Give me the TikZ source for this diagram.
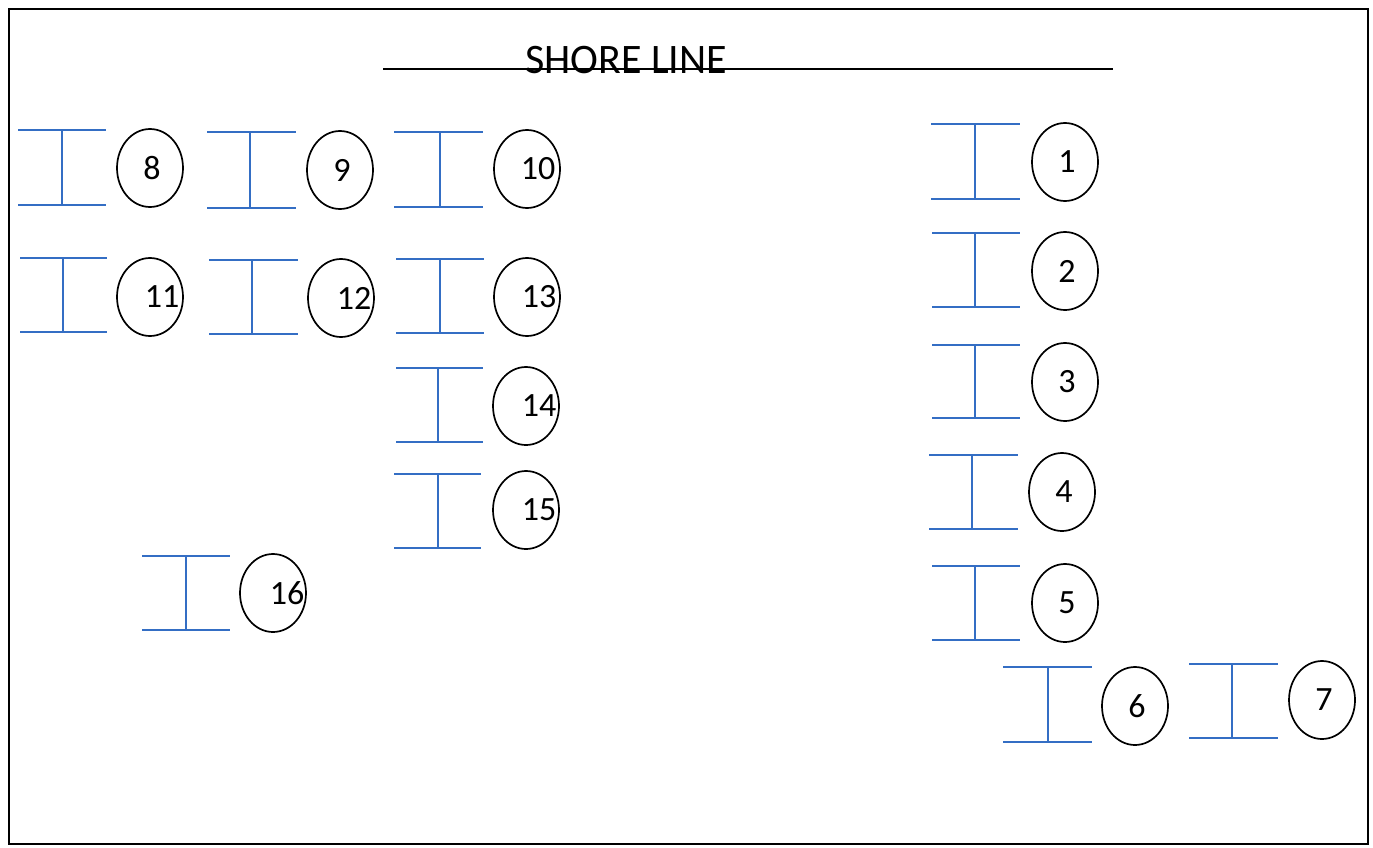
\documentclass[tikz,border=0pt]{standalone}
\usepackage{fontspec}
\setmainfont{Carlito}
\definecolor{pierblue}{RGB}{52,110,196}
\tikzset{
  pierline/.style={draw=pierblue, line width=1.8pt},
  berth/.style={draw=black, line width=1.7pt, ellipse, minimum width=66pt, minimum height=78pt, inner sep=0pt},
  numlabel/.style={font=\fontsize{34}{38}\selectfont, inner sep=0pt, anchor=center},
}
\usetikzlibrary{shapes.geometric}
% #1 id, #2 x-left, #3 x-right, #4 top y, #5 bottom y, #6 vertical x, #7 ellipse cx, #8 ellipse cy, #9 label x
\newcommand{\pierunit}[9]{%
  \coordinate (p#1tl) at (#2,#4);
  \coordinate (p#1tr) at (#3,#4);
  \coordinate (p#1bl) at (#2,#5);
  \coordinate (p#1br) at (#3,#5);
  \coordinate (p#1vt) at (#6,#4);
  \coordinate (p#1vb) at (#6,#5);
  \draw[pierline] (p#1tl) -- (p#1tr);
  \draw[pierline] (p#1bl) -- (p#1br);
  \draw[pierline] (p#1vt) -- (p#1vb);
  \node[berth] (e#1) at (#7,#8) {};
  \node[numlabel] (n#1) at (#9,#8) {#1};
}
\begin{document}
\begin{tikzpicture}[x=1pt,y=-1pt]
\useasboundingbox (0,0) rectangle (1373,848);
\node[draw=black, line width=2pt, minimum width=1359pt, minimum height=835pt, inner sep=0pt, anchor=north west] (frame) at (8,8) {};
\node[font=\fontsize{42}{46}\selectfont, inner sep=0pt, anchor=base] (title) at (626,74) {SHORE LINE};
\coordinate (sl1) at (383,69);
\coordinate (sl2) at (1113,69);
\draw[black, line width=1.8pt] (sl1) -- (sl2);
\pierunit{8}{18}{106}{130}{205}{62}{150}{168}{152}
\pierunit{9}{207}{296}{132}{208}{250}{340}{170}{342}
\pierunit{10}{394}{483}{132}{207}{440}{527}{169}{538}
\pierunit{11}{20}{107}{258}{332}{63}{150}{297}{162}
\pierunit{12}{209}{298}{260}{334}{252}{341}{298}{354}
\pierunit{13}{396}{484}{259}{333}{440}{527}{297}{539}
\pierunit{14}{396}{483}{368}{442}{438}{526}{406}{539}
\pierunit{15}{394}{481}{474}{548}{438}{526}{510}{539}
\pierunit{16}{142}{230}{556}{630}{186}{273}{593}{287}
\pierunit{1}{931}{1020}{124}{199}{975}{1065}{162}{1067}
\pierunit{2}{932}{1020}{233}{307}{975}{1065}{271}{1067}
\pierunit{3}{932}{1020}{345}{418}{975}{1065}{382}{1067}
\pierunit{4}{929}{1018}{455}{529}{972}{1062}{492}{1064}
\pierunit{5}{932}{1020}{566}{640}{975}{1065}{603}{1067}
\pierunit{6}{1003}{1092}{667}{742}{1048}{1135}{706}{1137}
\pierunit{7}{1189}{1278}{664}{738}{1232}{1322}{700}{1324}
\end{tikzpicture}
\end{document}
